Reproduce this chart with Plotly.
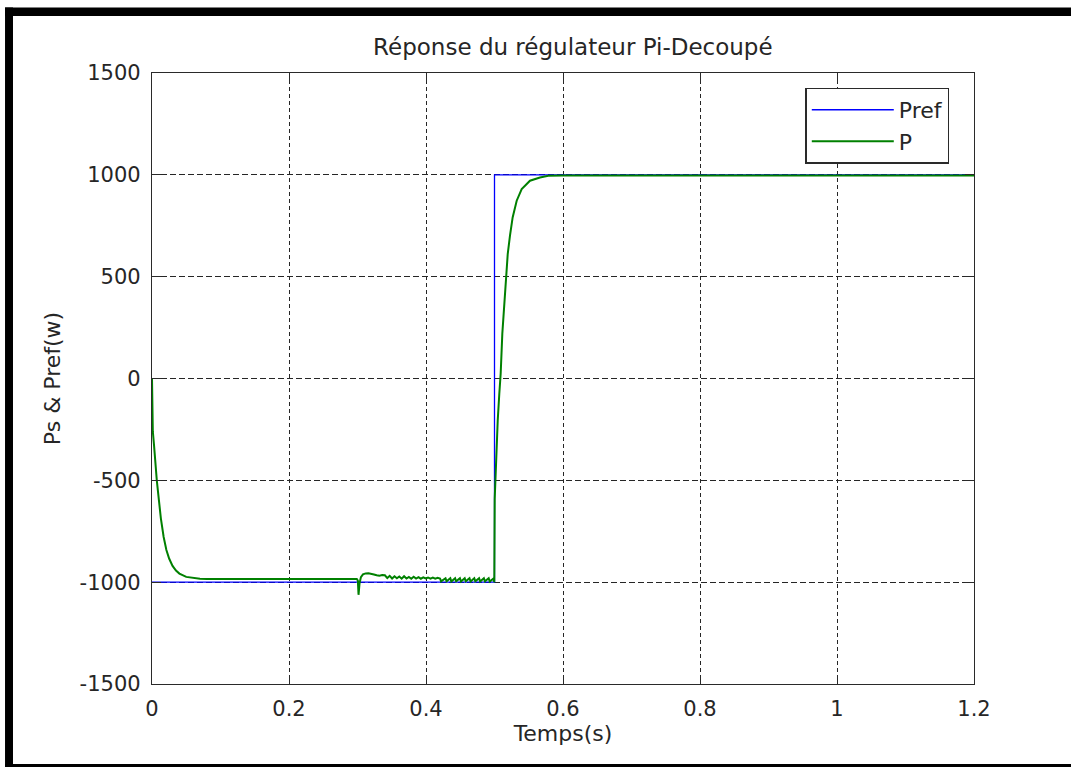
import plotly.graph_objects as go

# ---------------- data ----------------
t_ref = [0.0, 0.5, 0.5, 1.2]
p_ref = [-1000, -1000, 1000, 1000]

t_p = [0.0, 0.0004, 0.0012, 0.003, 0.005, 0.007, 0.010, 0.013, 0.017, 0.021,
       0.025, 0.030, 0.035, 0.040, 0.050, 0.060, 0.070, 0.080, 0.100, 0.150,
       0.200, 0.250, 0.299, 0.3005, 0.3015, 0.303, 0.305, 0.308, 0.312, 0.316,
       0.320, 0.324, 0.328, 0.332, 0.336, 0.340, 0.3435, 0.347, 0.3505, 0.354,
       0.3575, 0.361, 0.3645, 0.368, 0.3715, 0.375, 0.3785, 0.382, 0.3855, 0.389,
       0.3925, 0.396, 0.3995, 0.403, 0.4065, 0.410, 0.4135, 0.417, 0.4205, 0.422,
       0.4285, 0.430, 0.4355, 0.437, 0.4425, 0.444, 0.4495, 0.451, 0.4565, 0.458,
       0.4635, 0.465, 0.4705, 0.472, 0.4775, 0.479, 0.4845, 0.486, 0.4915, 0.493,
       0.4985, 0.4997, 0.5003, 0.5022, 0.5047, 0.507, 0.509, 0.5114, 0.5143, 0.5163,
       0.5193, 0.5226, 0.5265, 0.5324, 0.5397, 0.5518, 0.5664, 0.5785, 0.600, 0.800,
       1.000, 1.200]
p_p = [0, -170, -260, -330, -420, -500, -595, -688, -778, -842,
       -884, -920, -943, -958, -974, -980, -983, -984, -985, -985,
       -985, -985, -985, -992, -1062, -1005, -975, -962, -957, -956,
       -958, -962, -966, -968, -965, -966, -980, -969, -982, -971,
       -981, -972, -983, -971, -982, -974, -983, -973, -982, -975,
       -983, -976, -982, -977, -983, -978, -983, -979, -982, -996,
       -981, -996, -981, -997, -981, -996, -981, -997, -981, -996,
       -981, -997, -981, -996, -981, -997, -981, -996, -981, -997,
       -982, -1000, -590, -410, -206, -75, 23, 219, 366, 497,
       611, 701, 791, 873, 930, 971, 987, 995, 997, 997,
       997, 997]

x_ticks = [0, 0.2, 0.4, 0.6, 0.8, 1.0, 1.2]
x_ticklabels = ["0", "0.2", "0.4", "0.6", "0.8", "1", "1.2"]
y_ticks = [-1500, -1000, -500, 0, 500, 1000, 1500]
y_ticklabels = ["-1500", "-1000", "-500", "0", "500", "1000", "1500"]

FONT = "DejaVu Sans"
AXC = "#2a2a2a"

fig = go.Figure()
fig.add_trace(go.Scatter(x=t_ref, y=p_ref, mode="lines", name="Pref",
                         line=dict(color="#0000FF", width=1.3), legendgroup="a"))
fig.add_trace(go.Scatter(x=t_p, y=p_p, mode="lines", name="P",
                         line=dict(color="#008000", width=2.0), legendgroup="b"))

axis_common = dict(showline=True, linecolor=AXC, linewidth=1.3, mirror="ticks",
                   ticks="inside", ticklen=9, tickwidth=1, tickcolor=AXC,
                   showgrid=True, gridcolor="#262626", gridwidth=1,
                   zeroline=False, tickfont=dict(family=FONT, size=21, color="#262626"))

fig.update_xaxes(range=[0, 1.2], tickvals=x_ticks, ticktext=x_ticklabels,
                 griddash="4px,3px", ticklabelstandoff=6,
                 title=dict(text="Temps(s)", font=dict(family=FONT, size=22, color="#262626"),
                            standoff=4),
                 **axis_common)
fig.update_yaxes(range=[-1500, 1500], tickvals=y_ticks, ticktext=y_ticklabels,
                 griddash="6px,3px", ticklabelstandoff=6,
                 title=dict(text="Ps &amp; Pref(w)", font=dict(family=FONT, size=22, color="#262626"),
                            standoff=12),
                 **axis_common)

border = [
    dict(x0=-0.1788, x1=1.2, y0=1.0933, y1=1.107),   # top band
    dict(x0=-0.1788, x1=-0.1691, y0=-0.2, y1=1.107),  # left band
    dict(x0=-0.1788, x1=1.2, y0=-0.2, y1=-0.1309),   # bottom band
]
shapes = [dict(type="rect", xref="paper", yref="paper", fillcolor="black",
               line=dict(width=0), layer="above", **b) for b in border]

fig.update_layout(
    width=1071, height=767,
    margin=dict(l=152, r=97, t=73, b=83),
    paper_bgcolor="white", plot_bgcolor="white",
    title=dict(text="Réponse du régulateur Pi-Decoupé", x=0.512, xref="paper",
               xanchor="center", y=1 - 47 / 767, yref="container", yanchor="middle",
               font=dict(family=FONT, size=23, color="#262626")),
    showlegend=True,
    legend=dict(x=0.795, y=0.976, xanchor="left", yanchor="top",
                bgcolor="white", bordercolor=AXC, borderwidth=1.3,
                font=dict(family=FONT, size=22, color="#262626"),
                itemwidth=82, tracegroupgap=0, traceorder="grouped"),
    shapes=shapes,
)

fig.write_html("out.html")
